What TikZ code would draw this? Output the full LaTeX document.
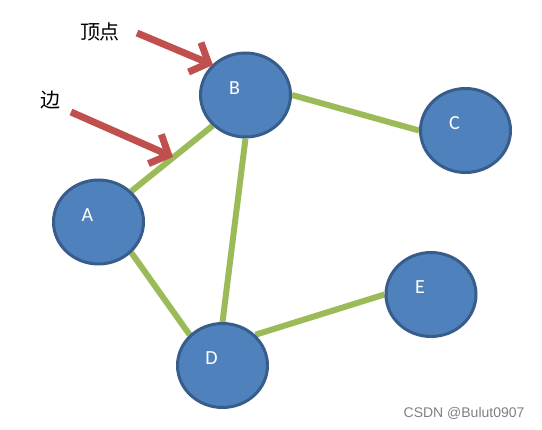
\documentclass[tikz,border=0pt]{standalone}
\usepackage{fontspec}
\setmainfont{Carlito}
\newfontfamily\cjkfont{Noto Sans CJK SC}
\newfontfamily\wmfont{Liberation Sans}
\usetikzlibrary{shapes.geometric,arrows.meta,backgrounds}
\definecolor{GraphVtxFill}{RGB}{79,129,189}
\definecolor{GraphVtxDraw}{RGB}{56,93,138}
\definecolor{GraphEdgeColor}{RGB}{155,187,89}
\definecolor{GraphPointerColor}{RGB}{192,80,77}
\begin{document}
\begin{tikzpicture}[x=1pt,y=-1pt,
  vtx/.style={ellipse,draw=GraphVtxDraw,fill=GraphVtxFill,line width=3pt,minimum width=90pt,minimum height=84pt,inner sep=0pt},
  vtxlbl/.style={text=white,font=\fontsize{20}{20}\selectfont},
  edg/.style={GraphEdgeColor,line width=6pt},
  pointer/.style={GraphPointerColor,line width=7pt,-{Straight Barb[length=15pt,width=32pt]}},
  note/.style={font=\cjkfont\fontsize{20}{20}\selectfont}]
\useasboundingbox (0,0) rectangle (542,430);
\foreach \n/\x/\y in %
{A/98.5/222,B/245.5/95,C/465.5/130.5,D/222.5/365.5,E/431/294.5} {
   \node[vtx,label={[vtxlbl,xshift=-11pt,yshift=7pt]center:\n}](\n) at(\x,\y) {};
}
\begin{scope}[on background layer]
   \draw[edg] (A.north east) -- (B.south west);
   \draw[edg] (B.east) -- (C.west);
   \draw[edg] (B.south) -- (D.north);
   \draw[edg] (A.south east) -- (D.north west);
   \draw[edg] (D.north east) -- (E.west);
\end{scope}
   \node[note](vtxtxt) at(100,32) {顶点};
   \node[note](edgtxt) at(50,100) {边};
   \coordinate (vtxtail) at(137,33);
   \coordinate (vtxtip) at(213,65);
   \coordinate (edgtail) at(71,112);
   \coordinate (edgtip) at(173,157);
   \draw[pointer] (vtxtail) -- (vtxtip);
   \draw[pointer] (edgtail) -- (edgtip);
   \node[text=gray,font=\wmfont\fontsize{14}{14}\selectfont,anchor=east](wm) at(528,413) {CSDN @Bulut0907};
\end{tikzpicture}
\end{document}
